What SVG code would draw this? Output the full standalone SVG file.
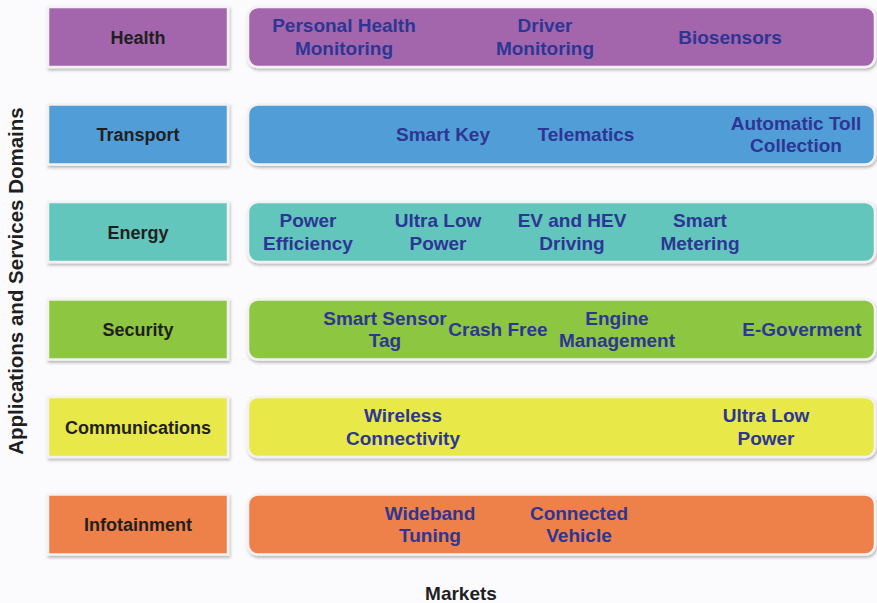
<svg xmlns="http://www.w3.org/2000/svg" width="877" height="603" viewBox="0 0 877 603">
  <defs>
    <filter id="sh" x="-5%" y="-20%" width="110%" height="150%">
      <feDropShadow dx="1" dy="2" stdDeviation="1.5" flood-color="#000" flood-opacity="0.28"/>
    </filter>
  </defs>
  <style>
    .lab { font-family: "Liberation Sans", Arial, sans-serif; font-weight: bold; font-size: 18px; fill: #1f1f1f; text-anchor: middle; }
    .mk { font-family: "Liberation Sans", Arial, sans-serif; font-weight: bold; font-size: 19px; fill: #2D3693; text-anchor: middle; }
    .ax { font-family: "Liberation Sans", Arial, sans-serif; font-weight: bold; font-size: 20.5px; fill: #1f1f1f; text-anchor: middle; }
    .lbox { stroke: #f3f1f1; stroke-width: 2.5; filter: url(#sh); }
    .rbox { stroke: #f3f1f1; stroke-width: 2.5; filter: url(#sh); }
  </style>
  <rect x="0" y="0" width="877" height="603" fill="#FBFBFD"/>

  <text class="ax" transform="translate(23,281) rotate(-90)">Applications and Services Domains</text>
  <text class="ax" x="461" y="600" style="font-size:19px">Markets</text>

  <g id="health">
    <rect class="lbox" x="48" y="7" width="180" height="60" fill="#A366AD"/>
    <text class="lab" x="138" y="43.5">Health</text>
    <rect class="rbox" x="248" y="7" width="627" height="60" rx="10" fill="#A366AD"/>
    <text class="mk" x="344" y="32">Personal Health</text>
    <text class="mk" x="344" y="54.5">Monitoring</text>
    <text class="mk" x="545" y="32">Driver</text>
    <text class="mk" x="545" y="54.5">Monitoring</text>
    <text class="mk" x="730" y="43.5">Biosensors</text>
  </g>

  <g id="transport">
    <rect class="lbox" x="48" y="104.5" width="180" height="60" fill="#519DD8"/>
    <text class="lab" x="138" y="141">Transport</text>
    <rect class="rbox" x="248" y="104.5" width="627" height="60" rx="10" fill="#519DD8"/>
    <text class="mk" x="443" y="141">Smart Key</text>
    <text class="mk" x="586" y="141">Telematics</text>
    <text class="mk" x="796" y="129.5">Automatic Toll</text>
    <text class="mk" x="796" y="152">Collection</text>
  </g>

  <g id="energy">
    <rect class="lbox" x="48" y="202" width="180" height="60" fill="#62C6BC"/>
    <text class="lab" x="138" y="238.5">Energy</text>
    <rect class="rbox" x="248" y="202" width="627" height="60" rx="10" fill="#62C6BC"/>
    <text class="mk" x="308" y="227">Power</text>
    <text class="mk" x="308" y="249.5">Efficiency</text>
    <text class="mk" x="438" y="227">Ultra Low</text>
    <text class="mk" x="438" y="249.5">Power</text>
    <text class="mk" x="572" y="227">EV and HEV</text>
    <text class="mk" x="572" y="249.5">Driving</text>
    <text class="mk" x="700" y="227">Smart</text>
    <text class="mk" x="700" y="249.5">Metering</text>
  </g>

  <g id="security">
    <rect class="lbox" x="48" y="299.5" width="180" height="60" fill="#8DC63F"/>
    <text class="lab" x="138" y="336">Security</text>
    <rect class="rbox" x="248" y="299.5" width="627" height="60" rx="10" fill="#8DC63F"/>
    <text class="mk" x="385" y="324.5">Smart Sensor</text>
    <text class="mk" x="385" y="347">Tag</text>
    <text class="mk" x="498" y="336">Crash Free</text>
    <text class="mk" x="617" y="324.5">Engine</text>
    <text class="mk" x="617" y="347">Management</text>
    <text class="mk" x="802" y="336">E-Goverment</text>
  </g>

  <g id="communications">
    <rect class="lbox" x="48" y="397" width="180" height="60" fill="#E8E84A"/>
    <text class="lab" x="138" y="433.5">Communications</text>
    <rect class="rbox" x="248" y="397" width="627" height="60" rx="10" fill="#E8E84A"/>
    <text class="mk" x="403" y="422">Wireless</text>
    <text class="mk" x="403" y="444.5">Connectivity</text>
    <text class="mk" x="766" y="422">Ultra Low</text>
    <text class="mk" x="766" y="444.5">Power</text>
  </g>

  <g id="infotainment">
    <rect class="lbox" x="48" y="494.5" width="180" height="60" fill="#EE804A"/>
    <text class="lab" x="138" y="531">Infotainment</text>
    <rect class="rbox" x="248" y="494.5" width="627" height="60" rx="10" fill="#EE804A"/>
    <text class="mk" x="430" y="519.5">Wideband</text>
    <text class="mk" x="430" y="542">Tuning</text>
    <text class="mk" x="579" y="519.5">Connected</text>
    <text class="mk" x="579" y="542">Vehicle</text>
  </g>

  <g id="connectors"></g>
</svg>
